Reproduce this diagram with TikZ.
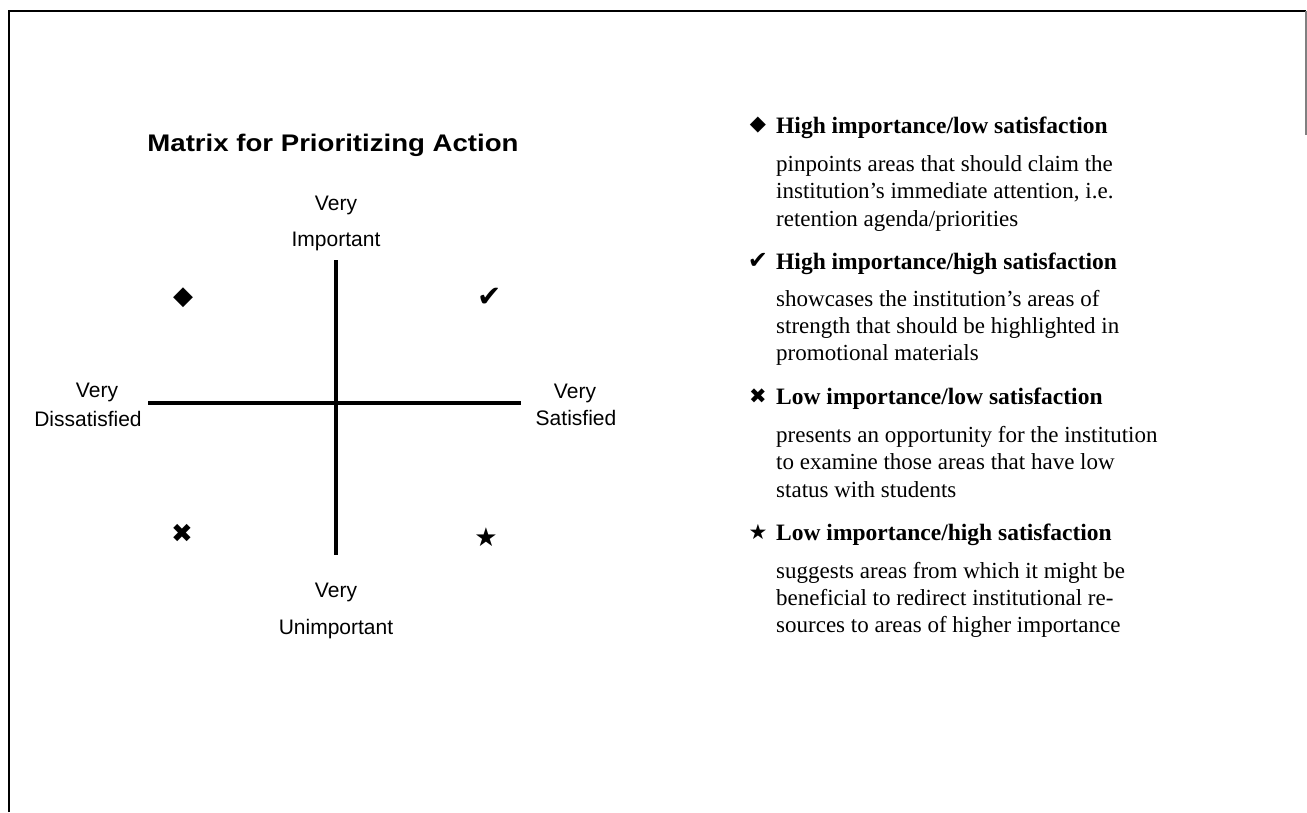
\documentclass[tikz,border=0pt]{standalone}
\usepackage{fontspec}
\setmainfont{Liberation Serif}
\newfontfamily\labelfont{Liberation Sans}
\newfontfamily\mtitlefont{Liberation Sans}[FakeStretch=1.15]
\newfontfamily\symfont{DejaVu Sans}
\begin{document}
\begin{tikzpicture}[x=1pt,y=-1pt,
  mtitle/.style={font=\mtitlefont\bfseries\fontsize{24}{28}\selectfont, inner sep=0, anchor=base},
  axlabel/.style={font=\labelfont\fontsize{21}{24}\selectfont, inner sep=0, anchor=base},
  axisline/.style={line width=4pt},
  qsym/.style={font=\symfont\fontsize{26}{26}\selectfont, inner sep=0},
  bul/.style={font=\symfont\fontsize{21}{21}\selectfont, inner sep=0},
  headtext/.style={font=\bfseries\fontsize{23.5}{28}\selectfont, inner sep=0, anchor=base west},
  bodytext/.style={font=\fontsize{23}{28}\selectfont, inner sep=0, anchor=base west},
  frameline/.style={line width=1.5pt}]
\useasboundingbox (0,0) rectangle (1307,812);
% frame
\coordinate (fbl) at (9,812);
\coordinate (ftl) at (9,11);
\coordinate (ftr) at (1306,11);
\coordinate (fr) at (1306,135);
\draw[frameline] (fbl) -- (ftl) -- (ftr);
\draw[frameline, black!50] (ftr) -- (fr);
% title
\node[mtitle] (title) at (333,151) {Matrix for Prioritizing Action};
% axes
\coordinate (vtop) at (336,260);
\coordinate (vbot) at (336,555);
\coordinate (hl) at (148,403);
\coordinate (hr) at (521,403);
\draw[axisline] (vtop) -- (vbot);
\draw[axisline] (hl) -- (hr);
% axis labels
\node[axlabel] (impA) at (336,210) {Very};
\node[axlabel] (impB) at (336,246) {Important};
\node[axlabel] (disA) at (97,397) {Very};
\node[axlabel] (disB) at (88,426) {Dissatisfied};
\node[axlabel] (satA) at (575,398) {Very};
\node[axlabel] (satB) at (576,425) {Satisfied};
\node[axlabel] (unA) at (336,597) {Very};
\node[axlabel] (unB) at (336,634) {Unimportant};
% quadrant symbols
\node[qsym] (qd) at (183,298) {◆};
\node[qsym, font=\symfont\fontsize{29}{29}\selectfont] (qc) at (490,297) {✔};
\node[qsym] (qx) at (182,533) {✖};
\node[qsym] (qs) at (486,537) {★};
% legend
\node[bul] (s1) at (758,125) {◆};
\node[headtext] (h1) at (776,133) {High importance/low satisfaction};
\node[bodytext] (b1a) at (776,171) {pinpoints areas that should claim the};
\node[bodytext] (b1b) at (776,198) {institution’s immediate attention, i.e.};
\node[bodytext] (b1c) at (776,226) {retention agenda/priorities};
\node[bul, font=\symfont\fontsize{24}{24}\selectfont] (s2) at (758,261) {✔};
\node[headtext] (h2) at (776,269) {High importance/high satisfaction};
\node[bodytext] (b2a) at (776,306) {showcases the institution’s areas of};
\node[bodytext] (b2b) at (776,333) {strength that should be highlighted in};
\node[bodytext] (b2c) at (776,360) {promotional materials};
\node[bul] (s3) at (758,396) {✖};
\node[headtext] (h3) at (776,404) {Low importance/low satisfaction};
\node[bodytext] (b3a) at (776,442) {presents an opportunity for the institution};
\node[bodytext] (b3b) at (776,469) {to examine those areas that have low};
\node[bodytext] (b3c) at (776,497) {status with students};
\node[bul] (s4) at (758,532) {★};
\node[headtext] (h4) at (776,540) {Low importance/high satisfaction};
\node[bodytext] (b4a) at (776,578) {suggests areas from which it might be};
\node[bodytext] (b4b) at (776,605) {beneficial to redirect institutional re-};
\node[bodytext] (b4c) at (776,632) {sources to areas of higher importance};
\end{tikzpicture}
\end{document}
